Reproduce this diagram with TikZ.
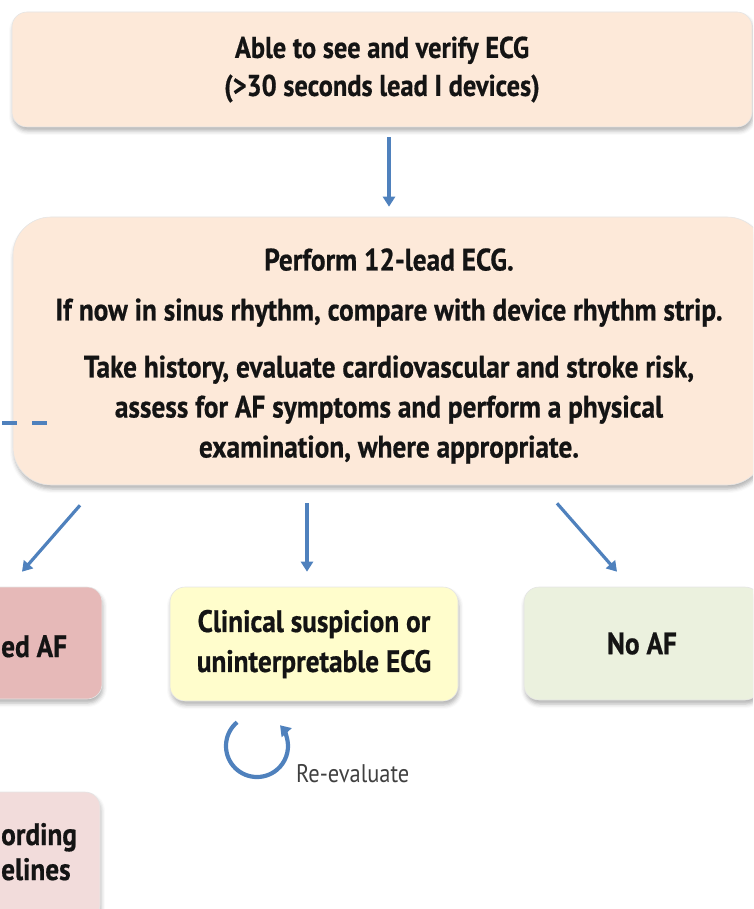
\documentclass[tikz,border=0pt]{standalone}
\usepackage{fontspec}
\setmainfont{PT Sans}[FakeStretch=0.88, BoldFeatures={FakeBold=0.6}]
\usetikzlibrary{arrows.meta,shadows.blur}

\definecolor{peach}{RGB}{253,233,217}
\definecolor{afred}{RGB}{230,185,184}
\definecolor{afpink}{RGB}{242,220,219}
\definecolor{suspect}{RGB}{255,253,204}
\definecolor{noaf}{RGB}{235,241,222}
\definecolor{flow}{RGB}{79,129,189}
\definecolor{ink}{RGB}{20,20,20}
\definecolor{note}{RGB}{64,64,64}

\begin{document}
\begin{tikzpicture}[x=1pt,y=-1pt,
  box/.style={rounded corners=15pt, draw=black!10, line width=0.6pt,
    blur shadow={shadow xshift=1pt,shadow yshift=-4pt,shadow blur radius=4pt,shadow opacity=30},
    inner sep=0pt, font=\fontsize{31}{40}\selectfont\bfseries, text=ink, align=center},
  frag/.style={inner sep=0pt, font=\fontsize{31}{40}\selectfont\bfseries, text=ink},
  arr/.style={draw=flow, line width=3.2pt, -{Triangle[length=10pt,width=12pt]}},
  loop/.style={draw=flow, line width=4.2pt, -{Triangle[length=10pt,width=13pt]}},
  dashlink/.style={draw=flow, line width=3.6pt, dash pattern=on 15pt off 15pt},
]
\useasboundingbox (0,0) rectangle (753,909);
\clip (0,0) rectangle (753,909);

% top box
\node[box, fill=peach, minimum width=740pt, minimum height=115pt,
      font=\fontsize{30}{38}\selectfont\bfseries] (b1) at (382,69.5)
  {Able to see and verify ECG\\(>30 seconds lead I devices)};

% assessment box
\node[box, fill=peach, rounded corners=38pt, minimum width=752pt, minimum height=268pt] (b2) at (389,351)
  {};
\node[align=center, inner sep=0pt, font=\fontsize{31}{40}\selectfont\bfseries, text=ink] (t2) at (389,356)
  {Perform 12-lead ECG.\\[10pt]
   If now in sinus rhythm, compare with device rhythm strip.\\[17pt]
   Take history, evaluate cardiovascular and stroke risk,\\
   assess for AF symptoms and perform a physical\\
   examination, where appropriate.};

% outcome boxes
\node[box, fill=afred, minimum width=282pt, minimum height=112pt] (b3) at (-39,643) {};
\node[frag, anchor=base west] (t3) at (1,657) {ed AF};

\node[box, fill=suspect, minimum width=288pt, minimum height=114pt] (b4) at (314,644)
  {Clinical suspicion or\\uninterpretable ECG};

\node[box, fill=noaf, minimum width=236pt, minimum height=113pt] (b5) at (642,643.5) {No AF};

% management box
\node[box, fill=afpink, minimum width=280pt, minimum height=128pt] (b6) at (-40,856) {};
\node[frag, anchor=base west] (t6a) at (1,845) {ording};
\node[frag, anchor=base west] (t6b) at (1,880) {elines};

% connectors
\draw[arr, shorten <=10pt, shorten >=10pt] (b1.south -| b2.north) -- (b2.north);
\draw[arr] ([xshift=-309pt,yshift=-20pt]b2.south) -- ([xshift=61pt,yshift=15pt]b3.north);
\draw[arr] ([xshift=-82pt,yshift=-18pt]b2.south) -- ([xshift=-7pt,yshift=15pt]b4.north);
\draw[arr] ([xshift=168pt,yshift=-18pt]b2.south) -- ([xshift=-25pt,yshift=15pt]b5.north);

% dashed link leaving the assessment box
\coordinate (dl) at (2,423);
\draw[dashlink] (dl) -- ++(45,0);

% re-evaluation loop
\coordinate (rc) at (257,746);
\draw[loop] ([shift={(130:31pt)}]rc) arc[start angle=130,end angle=402,radius=31pt];
\node[inner sep=0pt, anchor=base west, text=note, font=\fontsize{25.5}{30}\selectfont] (re) at (296,782) {Re-evaluate};
\end{tikzpicture}
\end{document}
